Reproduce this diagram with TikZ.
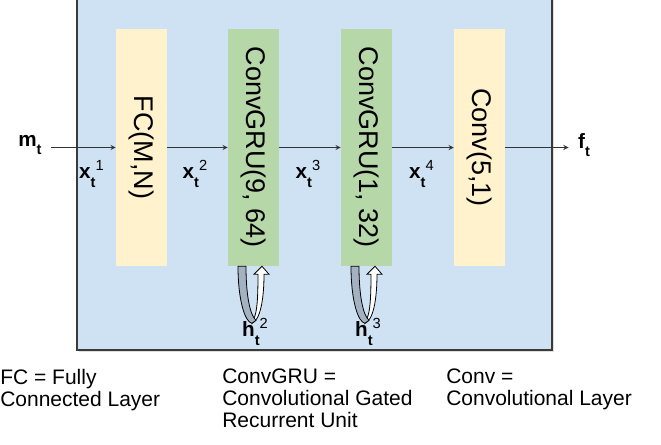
\documentclass[tikz,border=0pt]{standalone}
\usepackage{fontspec}
\setmainfont{Liberation Sans}
\usetikzlibrary{shadows}
\definecolor{panelblue}{HTML}{CFE2F3}
\definecolor{fcyellow}{HTML}{FFF2CC}
\definecolor{grugreen}{HTML}{B6D7A8}
\definecolor{loopgray}{HTML}{A3B1C0}
\definecolor{frame}{HTML}{3A3A3A}
\definecolor{linegray}{HTML}{333333}
% symbol with subscript and superscript set one after the other
\newcommand{\seqlbl}[3]{{\bfseries #1}\raisebox{-6.5pt}{\fontsize{11}{11}\selectfont\bfseries #2}\raisebox{6pt}{\fontsize{11}{11}\selectfont #3}}
\begin{document}
\begin{tikzpicture}[x=0.75pt, y=-0.75pt,
    layer/.style={minimum width=38.25pt, minimum height=177.75pt, inner sep=0pt, font=\fontsize{20.25}{20.25}\selectfont},
    fcbox/.style={layer, fill=fcyellow},
    grubox/.style={layer, fill=grugreen},
    ar/.style={->, >=stealth, line width=0.75pt, draw=linegray},
    sym/.style={font=\fontsize{15.5}{15.5}\selectfont},
    note/.style={anchor=north west, align=left, inner sep=0pt, font=\fontsize{15.75}{16.5}\selectfont}
  ]
  \useasboundingbox (0,0) rectangle (661,444);
  \fill[panelblue, draw=frame, line width=1.2pt,
    drop shadow={opacity=0.25, shadow xshift=1.2pt, shadow yshift=-1.2pt}] (77,-10) rectangle (552,350);

  \node[fcbox]  (fc)   at (141.5,147.5) {\rotatebox{-90}{FC(M,N)}};
  \node[grubox] (gru1) at (253.5,147.5) {\rotatebox{-90}{ConvGRU(9, 64)}};
  \node[grubox] (gru2) at (366.5,147.5) {\rotatebox{-90}{ConvGRU(1, 32)}};
  \node[fcbox]  (conv) at (479.5,147.5) {\rotatebox{-90}{Conv(5,1)}};

  \node[sym, inner xsep=7pt] (mt) at (30,145) {\seqlbl{m}{t}{}};
  \node[sym, inner xsep=7pt] (ft) at (584,145) {\seqlbl{f}{t}{}};

  \draw[ar] (mt.east |- fc.west) -- (fc.west);
  \draw[ar] (fc) -- (gru1);
  \draw[ar] (gru1) -- (gru2);
  \draw[ar] (gru2) -- (conv);
  \draw[ar] (conv) -- (ft.west |- conv.east);

  \node[sym] (x1) at (91.5,174) {\seqlbl{x}{t}{1}};
  \node[sym] (x2) at (195,174)  {\seqlbl{x}{t}{2}};
  \node[sym] (x3) at (308,174)  {\seqlbl{x}{t}{3}};
  \node[sym] (x4) at (421.5,174) {\seqlbl{x}{t}{4}};

  % recurrent state loops under the GRU layers
  \foreach \g/\k in {gru1/2, gru2/3} {
    \begin{scope}[shift={(\g.south)}]
      \filldraw[fill=white, draw=black, line width=0.6pt]
        (-1.5,57) .. controls (6.5,54) and (10.5,34) .. (10.5,8) -- (15.5,8) -- (8.5,0)
        -- (0.5,8) -- (4.5,8) .. controls (4.5,32) and (3.5,46) .. (0.5,52) -- cycle;
      \filldraw[fill=loopgray, draw=black, line width=0.6pt]
        (-15.5,0) .. controls (-15.5,34) and (-8.5,56) .. (-1.5,57) -- (2.5,54)
        .. controls (-3.5,49) and (-7.5,29) .. (-7.5,0) -- cycle;
      \node[sym] (h\k) at (1.5,66) {\seqlbl{h}{t}{\k}};
    \end{scope}
  }

  \node[note] (fcnote)   at (0,369)   {FC = Fully\\Connected Layer};
  \node[note] (grunote)  at (222,369) {ConvGRU =\\Convolutional Gated\\Recurrent Unit};
  \node[note] (convnote) at (446,369) {Conv =\\Convolutional Layer};
\end{tikzpicture}
\end{document}
